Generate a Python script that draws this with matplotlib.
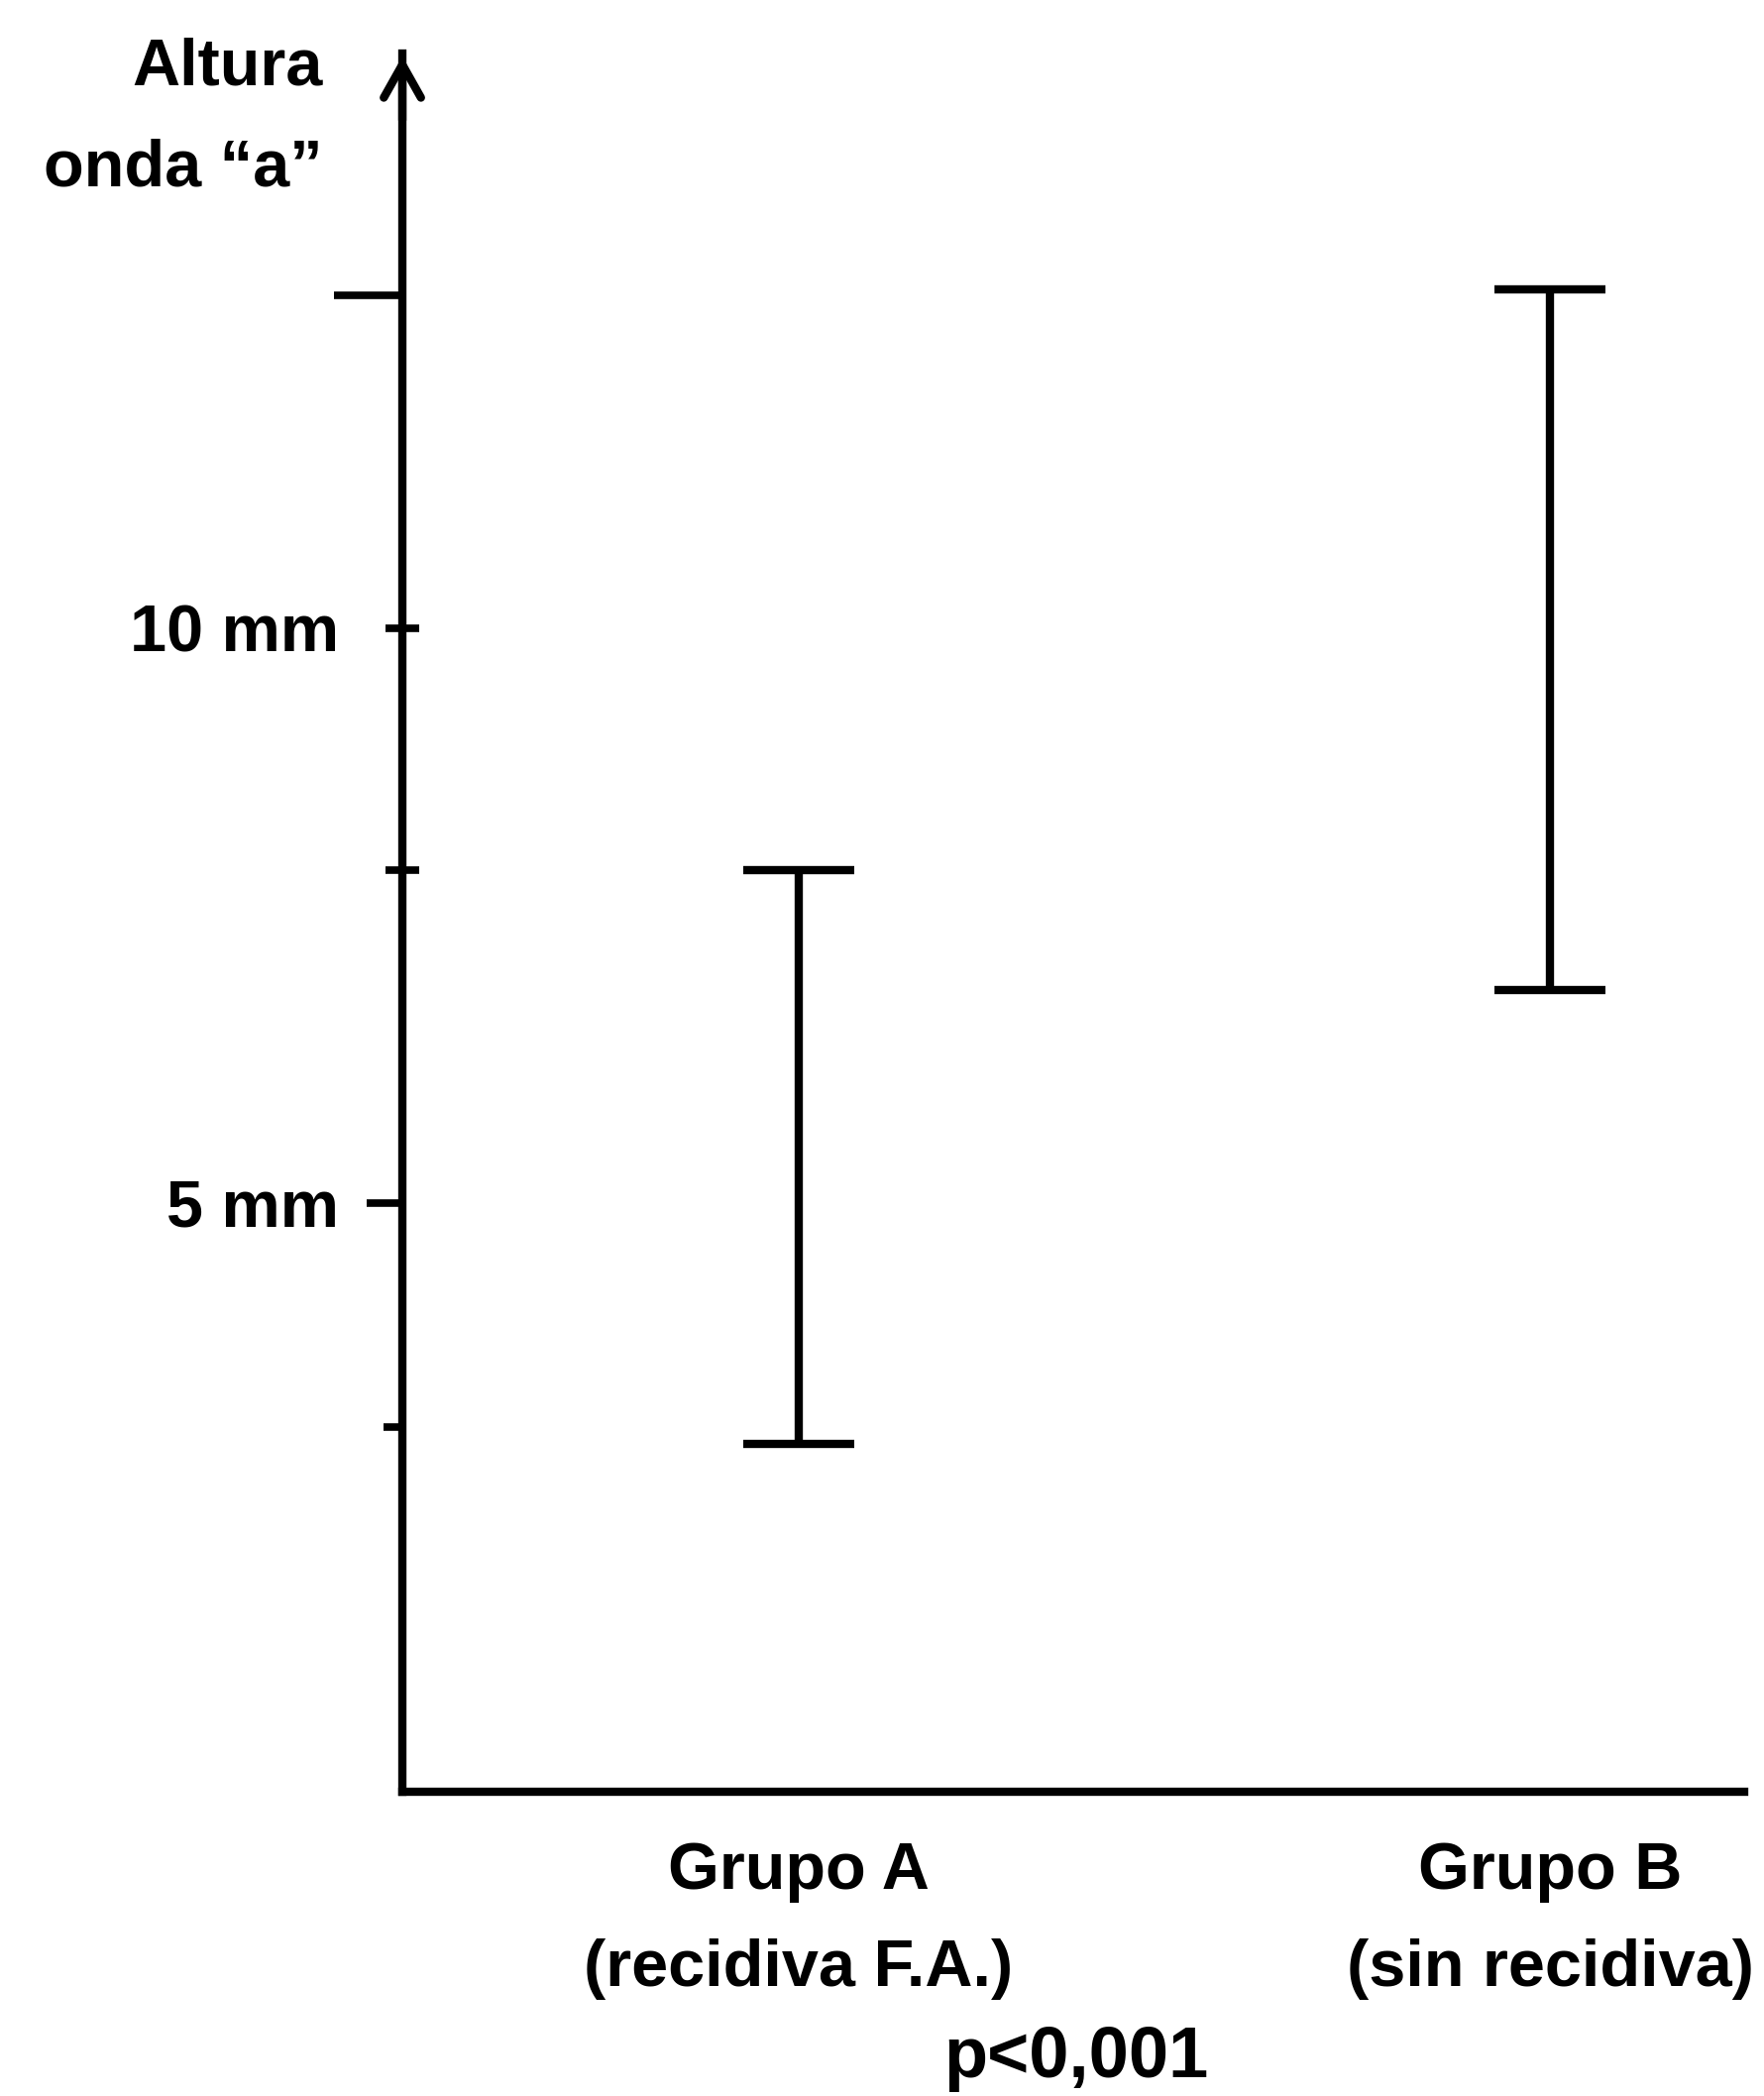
import matplotlib
matplotlib.use("Agg")
import matplotlib.pyplot as plt
import matplotlib.markers as mmarkers

plt.rcParams['font.family'] = ['Liberation Sans', 'DejaVu Sans']
plt.rcParams['font.weight'] = 'bold'

# data (mm)
grupos = ["Grupo A\n(recidiva F.A.)", "Grupo B\n(sin recidiva)"]
pos_grupos = [1, 2]
minimo = [2.9, 6.85]
maximo = [7.9, 12.95]

tick_vals = [3.05, 5, 7.9, 10, 12.9]
tick_labels = ["", "5 mm", "", "10 mm", ""]

fig = plt.figure(figsize=(17.8, 21.15), dpi=100)
ax = fig.add_axes([0.2281, 0.1452, 0.7607, 0.8293])

centro = [(a + b) / 2 for a, b in zip(minimo, maximo)]
err = [(b - a) / 2 for a, b in zip(minimo, maximo)]
ax.errorbar(pos_grupos, centro, yerr=err, fmt='none', ecolor='black',
            elinewidth=6, capsize=40, capthick=6)

ax.set_xlim(0.4723, 2.2586)
ax.set_ylim(-0.121, 15.0)

for s in ['top', 'right']:
    ax.spines[s].set_visible(False)
for s in ['left', 'bottom']:
    ax.spines[s].set_linewidth(6)
    ax.spines[s].set_capstyle('projecting')

ax.set_xticks(pos_grupos)
ax.set_xticklabels(grupos, fontsize=48, fontweight='bold', linespacing=1.75)
ax.tick_params(axis='x', length=0, pad=36)

ax.set_yticks(tick_vals)
ax.set_yticklabels(tick_labels, fontsize=48, fontweight='bold')
ax.tick_params(axis='y', length=0, pad=46)

# tick marks of different shape, as in the original drawing
estilos = [(mmarkers.TICKLEFT, 14), (mmarkers.TICKLEFT, 26), ('_', 24),
           ('_', 24), (mmarkers.TICKLEFT, 50)]
for t, (mk, ms) in zip(ax.yaxis.get_major_ticks(), estilos):
    t.tick1line.set_marker(mk)
    t.tick1line.set_markersize(ms)
    t.tick1line.set_markeredgewidth(5.5)
    t.tick1line.set_color('black')
    t.tick1line.set_visible(True)

# arrow at the top of the y axis
ax.annotate('', xy=(0, 1.0), xytext=(0, 0.96), xycoords='axes fraction',
            arrowprops=dict(arrowstyle='->, head_length=0.8, head_width=0.45',
                            lw=6, color='black', mutation_scale=30),
            annotation_clip=False)

fig.text(326 / 1780, 1 - 69 / 2115, "Altura", ha='right', va='center',
         fontsize=48, fontweight='bold')
fig.text(326 / 1780, 1 - 171 / 2115, "onda \u201ca\u201d", ha='right', va='center',
         fontsize=48, fontweight='bold')
fig.text(1086 / 1780, 1 - 2077 / 2115, "p<0,001", ha='center', va='center',
         fontsize=52, fontweight='bold')

fig.savefig("out.png", dpi=100, facecolor='white')
